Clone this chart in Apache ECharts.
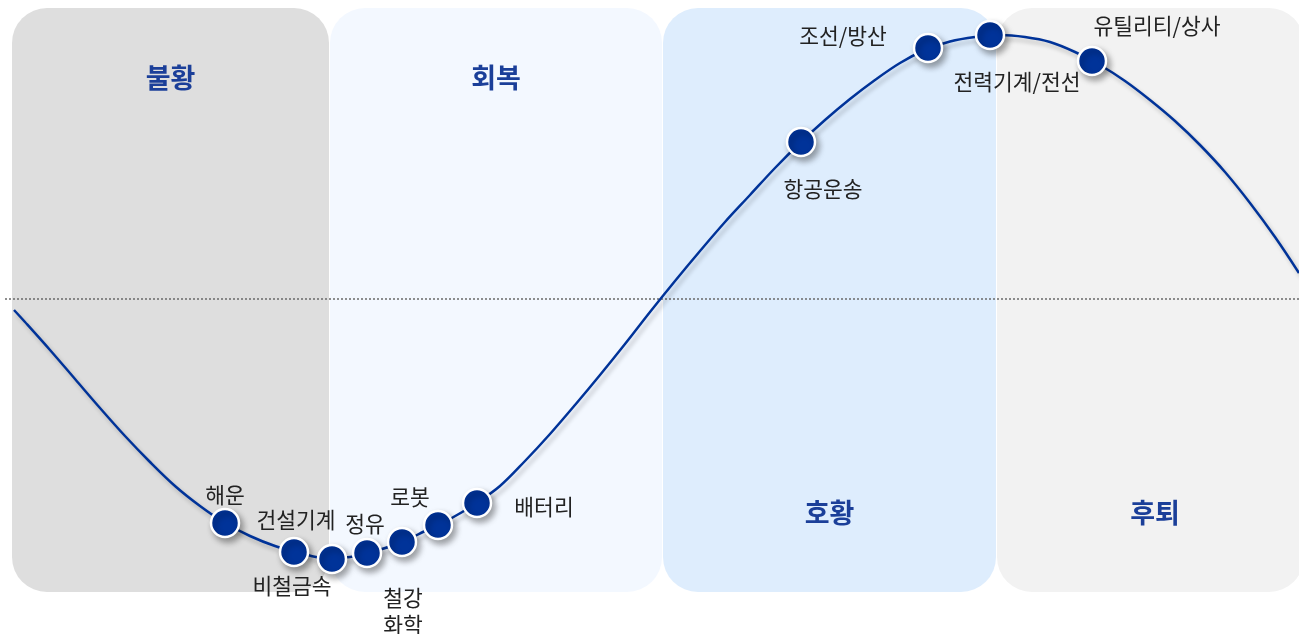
<!DOCTYPE html>
<html>
<head>
<meta charset="utf-8">
<script src="https://cdn.jsdelivr.net/npm/echarts@6/dist/echarts.min.js"></script>
<style>
html,body{margin:0;padding:0;background:#fff;}
#chart{width:1299px;height:634px;}
</style>
</head>
<body>
<div id="chart"></div>
<script>
// ---- data ----
var phaseNames = ['불황', '회복', '호황', '후퇴'];
var phaseStart = [12, 330, 663, 997];
var phaseEnd = [329, 662, 996, 1304];
var phaseLabelLevel = [221, 221, -214, -214];

var curveX = [14, 25, 50, 75, 100, 125, 150, 175, 200, 225, 250, 275, 300, 325, 350, 375, 400, 425, 450, 475, 500, 525, 550, 575, 600, 625, 650, 675, 700, 725, 750, 775, 800, 825, 850, 875, 900, 925, 950, 975, 1000, 1025, 1050, 1075, 1100, 1125, 1150, 1175, 1200, 1225, 1250, 1275, 1299];
var curveLevel = [-11, -23, -51, -80, -109, -137, -163, -187, -207, -224, -237, -247, -254, -259, -258, -252, -244, -232, -220, -205, -187, -162, -135, -106, -76, -45, -13, 18, 48, 77, 104, 131, 156, 179, 200, 219, 236, 249, 257.5, 262, 264, 262, 257, 247, 234, 218, 199, 178, 154, 127, 96, 62, 26];

var sectorNames = ['해운', '건설기계', '비철금속', '정유', '철강\n화학', '로봇', '배터리', '항공운송', '조선/방산', '전력기계/전선', '유틸리티/상사'];
var sectorX = [225, 294, 332, 367, 402, 438, 477, 801, 928, 990, 1092];
var sectorLevel = [-224, -253, -260, -254, -243, -226, -204, 157, 251, 264, 238];

var baseLevel = [0, 0];
var baseX = [5, 1299];

// ---- styles ----
var phaseColors = ['#dedede', '#f3f8ff', '#deedfd', '#f2f2f2'];
var labelOffsets = [[0, -28], [2, -32], [-40, 27], [-2, -29], [1, 69], [-28, -28], [67, 4], [22, 47], [-85, -12], [27, 47], [65, -35]];
var BLUE = '#003399';
var FONT = '"Noto Sans CJK KR", "Noto Sans", sans-serif';

var chart = echarts.init(document.getElementById('chart'), null, {renderer: 'canvas'});

var phaseData = phaseNames.map(function (n, i) {
  return [phaseStart[i], phaseEnd[i], phaseLabelLevel[i], i];
});
var curveData = curveX.map(function (x, i) { return [x, curveLevel[i]]; });
var sectorData = sectorNames.map(function (n, i) {
  return {
    value: [sectorX[i], sectorLevel[i]],
    name: n,
    label: {offset: labelOffsets[i]}
  };
});
var baseData = baseX.map(function (x, i) { return [x, baseLevel[i]]; });

var TOP = 291, BOTTOM = -293;

chart.setOption({
  animation: false,
  backgroundColor: '#ffffff',
  grid: {left: 0, right: 0, top: 0, bottom: 0},
  xAxis: {type: 'value', min: 0, max: 1299, show: false},
  yAxis: {type: 'value', min: -335, max: 299, show: false},
  series: [
    {
      type: 'custom',
      z: 1,
      silent: true,
      data: phaseData,
      renderItem: function (params, api) {
        var i = api.value(3);
        var p0 = api.coord([api.value(0), TOP]);
        var p1 = api.coord([api.value(1), BOTTOM]);
        var pc = api.coord([(api.value(0) + api.value(1)) / 2, api.value(2)]);
        if (i === 3) { pc = api.coord([(api.value(0) + 1313) / 2, api.value(2)]); }
        return {
          type: 'group',
          children: [
            {
              type: 'rect',
              shape: {x: p0[0], y: p0[1], width: p1[0] - p0[0], height: p1[1] - p0[1], r: 35},
              style: {fill: phaseColors[i]}
            },
            {
              type: 'text',
              x: pc[0], y: pc[1],
              style: {
                text: phaseNames[i],
                fill: '#1b3f99',
                font: 'bold 27px ' + FONT,
                align: 'center',
                verticalAlign: 'middle'
              }
            }
          ]
        };
      }
    },
    {
      type: 'line',
      z: 2,
      silent: true,
      data: baseData,
      symbol: 'none',
      lineStyle: {color: '#6a6a6a', width: 1.5, type: [2, 2]}
    },
    {
      type: 'line',
      z: 3,
      silent: true,
      data: curveData,
      smooth: 0.35,
      symbol: 'none',
      lineStyle: {
        color: BLUE, width: 2.5,
        shadowColor: 'rgba(0,0,0,0.22)', shadowBlur: 4, shadowOffsetX: 3, shadowOffsetY: 4
      }
    },
    {
      type: 'scatter',
      z: 4,
      silent: true,
      data: sectorData,
      symbol: 'circle',
      symbolSize: 28,
      itemStyle: {
        color: BLUE, opacity: 1, borderColor: '#ffffff', borderWidth: 2.5,
        shadowColor: 'rgba(0,0,0,0.35)', shadowBlur: 6, shadowOffsetX: 3, shadowOffsetY: 4
      },
      label: {
        show: true,
        position: 'inside',
        formatter: '{b}',
        color: '#222222',
        fontSize: 21.5,
        fontFamily: FONT,
        lineHeight: 27,
        align: 'center',
        verticalAlign: 'middle'
      }
    }
  ]
});
</script>
</body>
</html>
